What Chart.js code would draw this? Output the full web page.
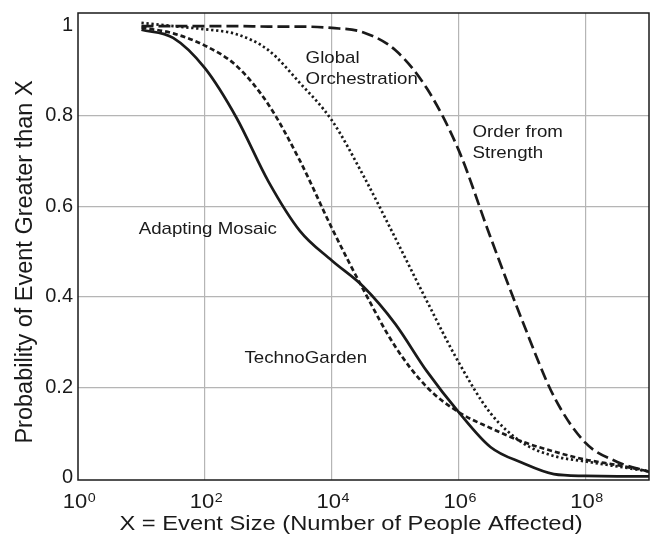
<!DOCTYPE html>
<html>
<head>
<meta charset="utf-8">
<script src="https://cdn.jsdelivr.net/npm/chart.js@4"></script>
<style>
  html, body { margin: 0; padding: 0; background: #fff; }
  #wrap { width: 657px; height: 540px; position: relative; }
</style>
</head>
<body>
<div id="wrap"><canvas id="c" width="657" height="540"></canvas></div>
<script>
// Event sizes (x), half-decade steps from 10^1 to 10^9
const eventSizes = [10, 31.62, 100, 316.2, 1000, 3162, 1e4, 31623, 1e5, 316228, 1e6, 3162278, 1e7, 31622777, 1e8, 316227766, 1e9];

const adaptingMosaic      = [0.99, 0.972, 0.905, 0.795, 0.655, 0.545, 0.48, 0.422, 0.34, 0.235, 0.145, 0.068, 0.033, 0.008, 0.004, 0.003, 0.003];
const technoGarden        = [0.995, 0.982, 0.955, 0.91, 0.825, 0.70, 0.552, 0.415, 0.29, 0.20, 0.145, 0.11, 0.08, 0.058, 0.04, 0.028, 0.014];
const globalOrchestration = [1.005, 0.998, 0.991, 0.98, 0.945, 0.872, 0.79, 0.667, 0.53, 0.39, 0.255, 0.143, 0.078, 0.048, 0.036, 0.025, 0.014];
const orderFromStrength   = [0.998, 0.998, 0.998, 0.998, 0.997, 0.997, 0.994, 0.984, 0.945, 0.86, 0.724, 0.532, 0.348, 0.18, 0.077, 0.035, 0.013];

// Tick labels: base "10" with exponent
const xTickValues = [1, 100, 1e4, 1e6, 1e8];
const xTickExponents = ['0', '2', '4', '6', '8'];
const yTickValues = [0, 0.2, 0.4, 0.6, 0.8, 1];
const yTickLabels = ['0', '0.2', '0.4', '0.6', '0.8', '1'];

const xTitle = 'X = Event Size (Number of People Affected)';
const yTitle = 'Probability of Event Greater than X';

const curveLabels = [
  { lines: ['Adapting Mosaic'], x: 9.04, y: 0.55 },
  { lines: ['TechnoGarden'], x: 420, y: 0.265 },
  { lines: ['Global', 'Orchestration'], x: 3870, y: 0.927 },
  { lines: ['Order from', 'Strength'], x: 1.65e6, y: 0.764 }
];

const FONT = '"Liberation Sans", Arial, Helvetica, sans-serif';
const INK = '#1a1a1a';
const STRETCH = 1.1; // text in the reference is slightly wide

function pts(vals) { return vals.map((v, i) => ({ x: eventSizes[i], y: v })); }

function stretchedText(ctx, text, x, y, sx) {
  ctx.save();
  ctx.translate(x, y);
  ctx.scale(sx, 1);
  ctx.fillText(text, 0, 0);
  ctx.restore();
}

const frame = {
  id: 'frame',
  afterDatasetsDraw(chart) {
    const { ctx, chartArea: a } = chart;
    ctx.save();
    ctx.strokeStyle = INK;
    ctx.lineWidth = 1.5;
    ctx.strokeRect(a.left, a.top, a.right - a.left, a.bottom - a.top);
    ctx.restore();
  }
};

const textPlugin = {
  id: 'texts',
  afterDraw(chart) {
    const { ctx, scales, chartArea: a } = chart;
    ctx.save();
    ctx.fillStyle = INK;

    // curve labels
    ctx.font = '17px ' + FONT;
    ctx.textAlign = 'left';
    ctx.textBaseline = 'middle';
    curveLabels.forEach(l => {
      const px = scales.x.getPixelForValue(l.x);
      const py = scales.y.getPixelForValue(l.y);
      l.lines.forEach((t, i) => stretchedText(ctx, t, px, py + i * 21.5, STRETCH));
    });

    // x tick labels: 10 with superscript exponent
    xTickValues.forEach((v, i) => {
      const px = scales.x.getPixelForValue(v);
      ctx.font = '20px ' + FONT;
      const wBase = ctx.measureText('10').width * STRETCH;
      ctx.font = '13px ' + FONT;
      const wExp = ctx.measureText(xTickExponents[i]).width * STRETCH;
      const left = px - (wBase + wExp) / 2 + 1;
      const base = a.bottom + 28;
      ctx.textAlign = 'left';
      ctx.textBaseline = 'alphabetic';
      ctx.font = '20px ' + FONT;
      stretchedText(ctx, '10', left, base, STRETCH);
      ctx.font = '13px ' + FONT;
      stretchedText(ctx, xTickExponents[i], left + wBase + 0.5, base - 6.5, STRETCH);
    });

    // y tick labels
    ctx.font = '20px ' + FONT;
    ctx.textAlign = 'right';
    ctx.textBaseline = 'middle';
    yTickValues.forEach((v, i) => {
      const py = scales.y.getPixelForValue(v);
      stretchedText(ctx, yTickLabels[i], a.left - 5, py, 1.0);
    });

    // x axis title
    ctx.font = '21px ' + FONT;
    ctx.textAlign = 'center';
    ctx.textBaseline = 'middle';
    stretchedText(ctx, xTitle, 351, 524, 1.13);

    // y axis title
    ctx.save();
    ctx.translate(26, 262);
    ctx.rotate(-Math.PI / 2);
    ctx.font = '23.5px ' + FONT;
    ctx.textAlign = 'center';
    ctx.textBaseline = 'middle';
    ctx.fillText(yTitle, 0, 0);
    ctx.restore();

    ctx.restore();
  }
};

const common = { pointRadius: 0, fill: false, borderColor: INK, cubicInterpolationMode: 'monotone', borderCapStyle: 'butt' };

new Chart(document.getElementById('c'), {
  type: 'line',
  data: {
    datasets: [
      Object.assign({ label: 'Adapting Mosaic', data: pts(adaptingMosaic), borderWidth: 2.7 }, common),
      Object.assign({ label: 'TechnoGarden', data: pts(technoGarden), borderWidth: 2.7, borderDash: [5, 3] }, common),
      Object.assign({ label: 'Global Orchestration', data: pts(globalOrchestration), borderWidth: 2.7, borderDash: [2.3, 2.7] }, common),
      Object.assign({ label: 'Order from Strength', data: pts(orderFromStrength), borderWidth: 2.7, borderDash: [12, 5] }, common)
    ]
  },
  options: {
    responsive: false,
    animation: false,
    layout: { padding: { left: 0, right: 8, top: 13, bottom: 0 } },
    plugins: { legend: { display: false }, tooltip: { enabled: false } },
    scales: {
      x: {
        type: 'logarithmic',
        min: 1, max: 1e9,
        afterBuildTicks: s => { s.ticks = xTickValues.map(v => ({ value: v })); },
        afterFit: s => { s.height = 60; },
        ticks: { display: false },
        grid: { color: ctx => (ctx.tick && ctx.tick.value === 1) ? 'rgba(0,0,0,0)' : '#b5b5b5', lineWidth: 1.2, drawTicks: false },
        border: { display: false },
        title: { display: false, text: xTitle }
      },
      y: {
        min: -0.005, max: 1.027,
        afterBuildTicks: s => { s.ticks = yTickValues.map(v => ({ value: v })); },
        afterFit: s => { s.width = 78; },
        ticks: { display: false },
        grid: { color: ctx => (ctx.tick && (ctx.tick.value === 0 || ctx.tick.value === 1)) ? 'rgba(0,0,0,0)' : '#b5b5b5', lineWidth: 1.2, drawTicks: false },
        border: { display: false },
        title: { display: false, text: yTitle }
      }
    }
  },
  plugins: [frame, textPlugin]
});
</script>
</body>
</html>
